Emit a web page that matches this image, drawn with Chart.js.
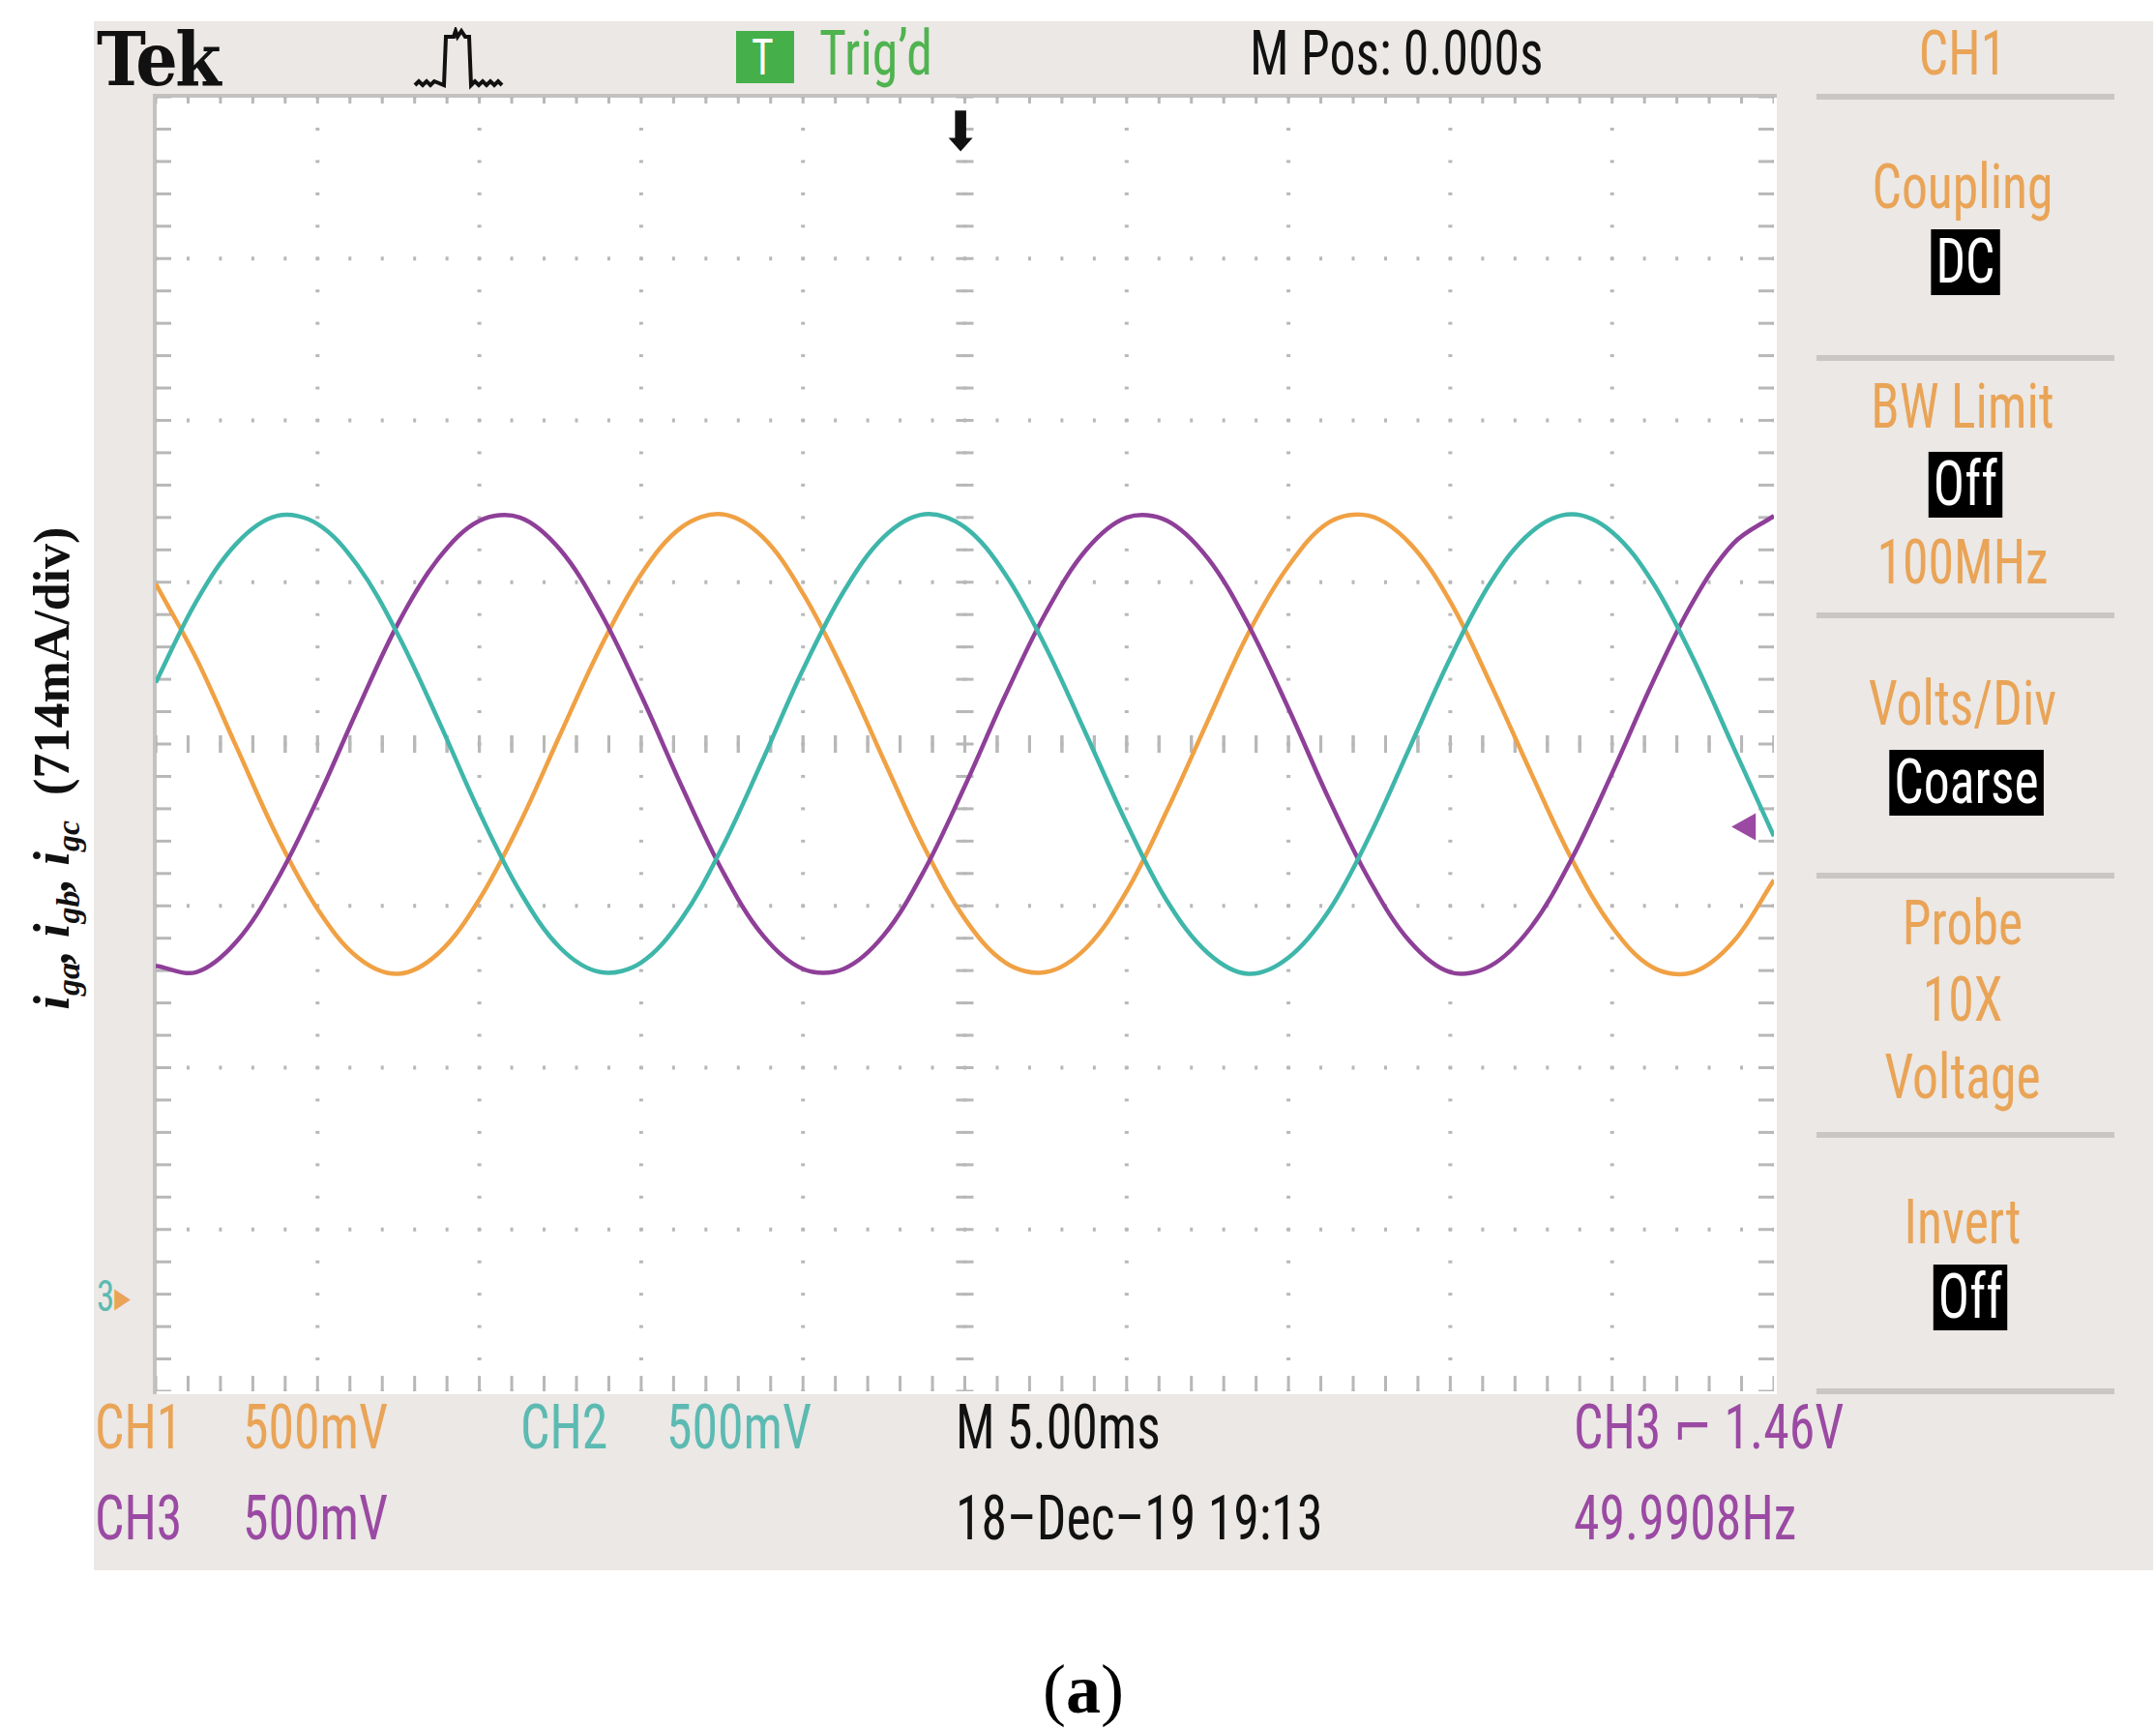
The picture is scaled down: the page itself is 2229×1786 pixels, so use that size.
<!DOCTYPE html>
<html><head><meta charset="utf-8">
<script src="https://cdn.jsdelivr.net/npm/chart.js@4"></script>
<style>
html,body{margin:0;padding:0;background:#fff;width:2229px;height:1786px;overflow:hidden;position:relative;font-family:"Liberation Sans Narrow","Roboto Condensed","DejaVu Sans Condensed",sans-serif;}
#screen{position:absolute;left:97px;top:22px;width:2129px;height:1601px;background:#ebe8e5;}
#plot{position:absolute;left:158px;top:97px;width:1679px;height:1344px;background:#fff;border-top:4px solid #c4c2c0;border-left:4px solid #c4c2c0;box-sizing:border-box;}
#cw{position:absolute;left:161px;top:100px;width:1673px;height:1338px;}
.t{position:absolute;white-space:nowrap;font-size:64px;line-height:1;transform:scaleX(0.84);transform-origin:left top;}
.c{transform:translateX(-50%) scaleX(0.84);transform-origin:center top;}
.or{color:#e9a457}.pu{color:#9b4aa3}.cy{color:#5cbab2}.bk{color:#111}
.box{background:#000;color:#fff;padding:2px 6px;}
.sep{position:absolute;left:1878px;width:308px;height:6px;background:#c9c6c3;}
</style></head><body>
<div id="screen"></div>
<div id="plot"></div>
<div id="cw"><canvas id="c"></canvas></div>
<div class="t" style="left:100px;top:24px;font-family:'DejaVu Serif',serif;font-weight:bold;font-size:76px;transform:scaleX(0.9);letter-spacing:-3px;color:#111">Tek</div>
<svg style="position:absolute;left:425px;top:28px" width="130" height="66"><path d="M4 60 l4 -4 l4 4 l4 -4 l4 4 l4 -4 L34 60 L36 10 L44 10 L46 4 L48 10 L52 4 L56 10 L60 10 L62 60 l4 -4 l4 4 l4 -4 l4 4 l4 -4 l4 4 l4 -4 l4 4" stroke="#111" stroke-width="4" fill="none"/></svg>
<div style="position:absolute;left:761px;top:32px;width:60px;height:54px;background:#45b04a;"></div>
<div class="t" style="left:777px;top:34px;color:#fff;font-size:52px">T</div>
<div class="t" style="left:847px;top:24px;color:#4fb34f">Trig’d</div>
<div class="t bk" style="left:1292px;top:24px">M Pos: 0.000s</div>
<div class="t or c" style="left:2029px;top:24px">CH1</div>
<div class="sep" style="top:97px"></div>
<div class="sep" style="top:367px"></div>
<div class="sep" style="top:633px"></div>
<div class="sep" style="top:902px"></div>
<div class="sep" style="top:1170px"></div>
<div class="sep" style="top:1435px"></div>
<div class="t or c" style="left:2029px;top:162px">Coupling</div>
<div class="t c box" style="left:2032px;top:237px">DC</div>
<div class="t or c" style="left:2029px;top:389px">BW Limit</div>
<div class="t c box" style="left:2032px;top:467px">Off</div>
<div class="t or c" style="left:2029px;top:550px">100MHz</div>
<div class="t or c" style="left:2029px;top:696px">Volts/Div</div>
<div class="t c box" style="left:2033px;top:775px">Coarse</div>
<div class="t or c" style="left:2029px;top:923px">Probe</div>
<div class="t or c" style="left:2029px;top:1002px">10X</div>
<div class="t or c" style="left:2029px;top:1082px">Voltage</div>
<div class="t or c" style="left:2029px;top:1232px">Invert</div>
<div class="t c box" style="left:2037px;top:1307px">Off</div>
<div class="t or" style="left:98px;top:1444px">CH1</div>
<div class="t or" style="left:251px;top:1444px">500mV</div>
<div class="t cy" style="left:538px;top:1444px">CH2</div>
<div class="t cy" style="left:689px;top:1444px">500mV</div>
<div class="t bk" style="left:988px;top:1444px">M 5.00ms</div>
<div class="t pu" style="left:1627px;top:1444px">CH3 ⌐ 1.46V</div>
<div class="t pu" style="left:98px;top:1538px">CH3</div>
<div class="t pu" style="left:251px;top:1538px">500mV</div>
<div class="t bk" style="left:988px;top:1538px">18–Dec–19 19:13</div>
<div class="t pu" style="left:1627px;top:1538px">49.9908Hz</div>
<div class="t" style="left:100px;top:1318px;font-size:44px"><span class="cy">3</span><span class="or">▸</span></div>
<div class="t pu" style="left:1790px;top:822px;font-size:56px;transform:none">◂</div>
<div class="t bk" style="left:972px;top:108px;font-size:56px;transform:none">⬇</div>
<div style="position:absolute;left:1120px;top:1705px;transform:translateX(-50%);font-family:'Liberation Serif',serif;font-size:72px;color:#000">(<b>a</b>)</div>
<div style="position:absolute;left:57px;top:794px;transform:translate(-50%,-50%) rotate(-90deg);white-space:nowrap;font-family:'Liberation Serif',serif;font-weight:bold;font-size:52px;color:#111"><i>i<sub style="font-size:34px">ga</sub>, i<sub style="font-size:34px">gb</sub>, i<sub style="font-size:34px">gc</sub></i>&nbsp; (714mA/div)</div>
<script>
const xDivs = [0,0.25,0.5,0.75,1,1.25,1.5,1.75,2,2.25,2.5,2.75,3,3.25,3.5,3.75,4,4.25,4.5,4.75,5,5.25,5.5,5.75,6,6.25,6.5,6.75,7,7.25,7.5,7.75,8,8.25,8.5,8.75,9,9.25,9.5,9.75,10];
const igaOrange = [0.99,0.53,-0.02,-0.57,-1.02,-1.32,-1.42,-1.29,-0.96,-0.49,0.06,0.60,1.05,1.34,1.42,1.28,0.93,0.45,-0.10,-0.64,-1.08,-1.35,-1.41,-1.26,-0.91,-0.41,0.14,0.68,1.10,1.37,1.41,1.24,0.88,0.37,-0.18,-0.71,-1.13,-1.38,-1.41,-1.22,-0.84];
const igbCyan = [0.38,0.88,1.24,1.41,1.36,1.10,0.67,0.14,-0.42,-0.91,-1.26,-1.41,-1.35,-1.08,-0.64,-0.10,0.46,0.94,1.28,1.42,1.34,1.05,0.60,0.06,-0.49,-0.97,-1.29,-1.42,-1.32,-1.03,-0.57,-0.02,0.53,1.00,1.31,1.42,1.31,1.00,0.53,-0.02,-0.57];
const igcPurple = [-1.37,-1.41,-1.22,-0.84,-0.34,0.22,0.75,1.15,1.38,1.40,1.20,0.81,0.30,-0.26,-0.78,-1.18,-1.39,-1.39,-1.18,-0.78,-0.26,0.30,0.81,1.20,1.40,1.38,1.15,0.74,0.22,-0.34,-0.84,-1.22,-1.41,-1.37,-1.13,-0.71,-0.18,0.38,0.88,1.24,1.41];

const mk=(vals,col)=>({data:xDivs.map((x,i)=>({x,y:vals[i]})),borderColor:col,borderWidth:4.5,pointRadius:0,tension:0.35});
const ticksPlugin={id:'osc',beforeDatasetsDraw(ch){
  const ctx=ch.ctx,xs=ch.scales.x,ys=ch.scales.y;ctx.save();ctx.fillStyle='#b8b8b8';
  for(let i=0;i<=10;i++){for(let j=0;j<=40;j++){const px=xs.getPixelForValue(i),py=ys.getPixelForValue(-4+j*0.2);ctx.fillRect(px-2,py-1.5,4,3);}}
  for(let j=0;j<=8;j++){for(let i=0;i<=50;i++){const px=xs.getPixelForValue(i*0.2),py=ys.getPixelForValue(-4+j);ctx.fillRect(px-1.5,py-2,3,4);}}
  for(let i=0;i<=50;i++){const px=xs.getPixelForValue(i*0.2);
    [[-4,1],[4,-1],[0,1],[0,-1]].forEach(([v,d])=>{const py=ys.getPixelForValue(v);ctx.fillRect(px-1.5,d>0&&v!==0?py-16:py-9,3,v===0?18:16);});}
  for(let j=0;j<=40;j++){const py=ys.getPixelForValue(-4+j*0.2);
    [0,5,10].forEach(v=>{const px=xs.getPixelForValue(v);ctx.fillRect(v===10?px-16:(v===0?px:px-9),py-1.5,v===5?18:16,3);});}
  ctx.restore();}};
new Chart(document.getElementById('c'),{type:'line',
 data:{datasets:[mk(igbCyan,'#3fb6aa'),mk(igcPurple,'#8e3f98'),mk(igaOrange,'#f0a144')]},
 options:{responsive:true,maintainAspectRatio:false,animation:false,layout:{padding:0},
  plugins:{legend:{display:false},tooltip:{enabled:false}},
  scales:{x:{type:'linear',min:0,max:10,display:false},y:{min:-4,max:4,display:false}}},
 plugins:[ticksPlugin]});
</script>
</body></html>
